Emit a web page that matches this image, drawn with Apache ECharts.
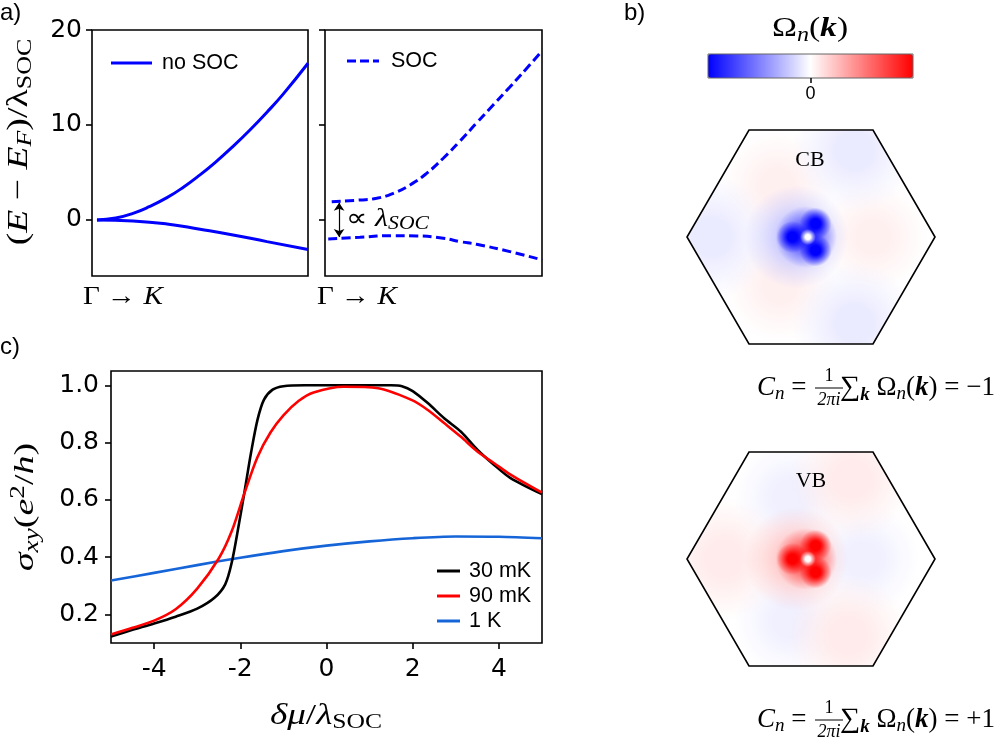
<!DOCTYPE html>
<html><head><meta charset="utf-8">
<script src="https://cdn.jsdelivr.net/npm/echarts@6/dist/echarts.min.js"></script>
<style>html,body{margin:0;padding:0;background:#fff}#c{width:996px;height:738px}</style>
</head><body><div id="c"></div>
<script>
// ---------- Panel a: band structure (x: fraction along Γ→K, y: (E-EF)/λSOC) ----------
const noSocUpperX = [0.023, 0.11, 0.19, 0.265, 0.347, 0.42, 0.5, 0.575, 0.653, 0.73, 0.81, 0.885, 1.0];
const noSocUpperY = [0, 0.2, 0.7, 1.4, 2.35, 3.4, 4.75, 6.15, 7.75, 9.45, 11.35, 13.25, 16.5];
const noSocLowerX = [0.023, 0.19, 0.347, 0.5, 0.653, 0.81, 1.0];
const noSocLowerY = [0, -0.1, -0.42, -0.98, -1.58, -2.28, -3.1];
const socUpperX = [0.031, 0.161, 0.238, 0.315, 0.392, 0.468, 0.545, 0.622, 0.698, 0.775, 0.852, 0.929, 1.0];
const socUpperY = [1.93, 2.1, 2.28, 2.8, 3.68, 4.9, 6.5, 8.3, 10.2, 12.1, 14.0, 15.95, 17.8];
const socLowerX = [0.015, 0.161, 0.315, 0.422, 0.545, 0.622, 0.698, 0.852, 1.0];
const socLowerY = [-2.0, -1.82, -1.65, -1.68, -1.93, -2.28, -2.56, -3.33, -4.2];
const aYTicks = [0, 10, 20];
const gapArrowX = [0.065, 0.065];
const gapArrowY = [1.8, -1.8];

// ---------- Panel c: Hall conductivity ----------
const c30X = [-5, -4.5, -4, -3.5, -3, -2.6, -2.35, -2.2, -2.05, -1.9, -1.75, -1.6, -1.45, -1.25, -1.0, -0.5, 1.5, 1.75, 2.0, 2.35, 2.73, 3.12, 3.5, 3.89, 4.27, 5];
const c30Y = [0.123, 0.146, 0.168, 0.192, 0.22, 0.258, 0.305, 0.38, 0.5, 0.63, 0.765, 0.88, 0.95, 0.985, 0.997, 1.0, 1.0, 0.997, 0.98, 0.938, 0.885, 0.838, 0.775, 0.722, 0.676, 0.62];
const c90X = [-5, -4.5, -4, -3.5, -3, -2.5, -2.2, -1.9, -1.6, -1.3, -1.0, -0.65, -0.3, 0.4, 1.2, 1.97, 2.35, 2.73, 3.12, 3.5, 3.89, 4.27, 5];
const c90Y = [0.13, 0.153, 0.178, 0.218, 0.29, 0.395, 0.49, 0.625, 0.75, 0.835, 0.895, 0.945, 0.975, 0.995, 0.99, 0.949, 0.914, 0.868, 0.82, 0.769, 0.728, 0.688, 0.625];
const c1KX = [-5, -4, -3, -2, -1, 0, 1, 2, 3, 4, 5];
const c1KY = [0.318, 0.345, 0.372, 0.398, 0.421, 0.44, 0.455, 0.466, 0.472, 0.471, 0.466];
const cXTicks = [-4, -2, 0, 2, 4];
const cYTicks = [0.2, 0.4, 0.6, 0.8, 1.0];

// ---------- Panel b: Berry curvature sketches (hexagonal BZ) ----------
const hexX = [1, 0.5, -0.5, -1, -0.5, 0.5];
const hexY = [0, 0.866, 0.866, 0, -0.866, -0.866];
// blobs: x, y, Ω value (-1..1), radius (BZ units)
const cbBlobX = [-0.27, -0.25, 0.5, -0.8, 0.35, 0.35, -0.12, -0.04, -0.15, 0.037, 0.037, -0.025];
const cbBlobY = [0.42, -0.4, 0.0, 0.0, 0.7, -0.7, 0.0, 0.0, 0.0, 0.108, -0.108, 0.0];
const cbBlobV = [0.06, 0.06, 0.06, -0.08, -0.08, -0.08, -0.22, -0.7, -1, -1, -1, 0];
const cbBlobR = [0.45, 0.45, 0.45, 0.5, 0.5, 0.5, 0.42, 0.25, 0.13, 0.13, 0.13, 0.065];
const vbBlobX = [-0.17, -0.17, 0.42, -0.7, 0.33, 0.3, -0.12, -0.04, -0.15, 0.037, 0.037, -0.025];
const vbBlobY = [0.5, -0.5, 0.0, 0.0, 0.65, -0.62, 0.0, 0.0, 0.0, 0.108, -0.108, 0.0];
const vbBlobV = [-0.06, -0.06, -0.06, 0.08, 0.08, 0.08, 0.22, 0.7, 1, 1, 1, 0];
const vbBlobR = [0.45, 0.45, 0.45, 0.5, 0.5, 0.5, 0.42, 0.25, 0.13, 0.13, 0.13, 0.065];
const colorbarTicks = [0];

const zip = (xs, ys) => xs.map((x, i) => [x, ys[i]]);
const zip4 = (a, b, c, d) => a.map((x, i) => [x, b[i], c[i], d[i]]);

const SANS = 'Liberation Sans, Arial, sans-serif';
const TICK = 'DejaVu Sans, sans-serif';
const SERIF = 'Liberation Serif, Times New Roman, serif';
function mrich(S) {
  const sub = Math.round(S * 0.7);
  return {
    rm: {fontFamily: SERIF, fontSize: S, fill: '#000'},
    it: {fontFamily: SERIF, fontSize: S, fontStyle: 'italic', fill: '#000'},
    bk: {fontFamily: SERIF, fontSize: S, fontStyle: 'italic', fontWeight: 'bold', fill: '#000'},
    sum: {fontFamily: SERIF, fontSize: S * 1.05, fill: '#000'},
    sub: {fontFamily: SERIF, fontSize: sub, fontStyle: 'italic', fill: '#000', padding: [S * 0.45, 0, 0, 0]},
    subrm: {fontFamily: SERIF, fontSize: sub, fill: '#000', padding: [S * 0.45, 0, 0, 0]},
    subbk: {fontFamily: SERIF, fontSize: sub, fontStyle: 'italic', fontWeight: 'bold', fill: '#000', padding: [S * 0.55, 0, 0, 0]},
    sup: {fontFamily: SERIF, fontSize: sub, fill: '#000', padding: [0, 0, S * 0.5, 0]}
  };
}

function blobRender(params, api) {
  const c = api.coord([api.value(0), api.value(1)]);
  const r = api.size([api.value(3), api.value(3)])[0];
  const col = api.visual('color');
  const pts = hexX.map((hx, i) => api.coord([hx, hexY[i]]));
  return {
    type: 'circle', silent: true,
    shape: {cx: c[0], cy: c[1], r: r},
    style: {fill: new echarts.graphic.RadialGradient(0.5, 0.5, 0.5, [
      {offset: 0, color: col},
      {offset: 0.3, color: col},
      {offset: 0.65, color: echarts.color.modifyAlpha(col, 0.45)},
      {offset: 1, color: echarts.color.modifyAlpha(col, 0)}
    ])},
    clipPath: {type: 'polygon', shape: {points: pts}}
  };
}
function frameRender(params, api) {
  const pts = hexX.map((hx, i) => api.coord([hx, hexY[i]]));
  return {type: 'polygon', silent: true, shape: {points: pts},
    style: {fill: 'none', stroke: '#000', lineWidth: 1.6}};
}

const chart = echarts.init(document.getElementById('c'), null, {renderer: 'canvas'});
const tickLabel = {fontFamily: TICK, color: '#000', fontSize: 25};
const tickStyle = {show: true, length: 6, lineStyle: {color: '#000', width: 1.6}};
const noLine = {show: false, onZero: false};

const option = {
  animation: false,
  backgroundColor: '#fff',
  grid: [
    {left: 92, top: 30, width: 216, height: 246, show: true, borderColor: '#000', borderWidth: 1.6, backgroundColor: 'transparent'},
    {left: 325, top: 30, width: 217, height: 246, show: true, borderColor: '#000', borderWidth: 1.6, backgroundColor: 'transparent'},
    {left: 111, top: 371, width: 431, height: 272, show: true, borderColor: '#000', borderWidth: 1.6, backgroundColor: 'transparent'},
    {left: 687, top: 130, width: 248, height: 214},
    {left: 687, top: 452, width: 248, height: 214},
    {left: 708, top: 54, width: 205, height: 24, show: true, borderColor: '#666', borderWidth: 1, backgroundColor: 'transparent', z: 10}
  ],
  xAxis: [
    {gridIndex: 0, type: 'value', min: 0, max: 1, axisLine: noLine, axisTick: {show: false}, axisLabel: {show: false}, splitLine: {show: false}},
    {gridIndex: 1, type: 'value', min: 0, max: 1, axisLine: noLine, axisTick: {show: false}, axisLabel: {show: false}, splitLine: {show: false}},
    {gridIndex: 2, type: 'value', min: -5, max: 5, position: 'bottom', axisLine: noLine, splitLine: {show: false},
      axisTick: {...tickStyle, customValues: cXTicks},
      axisLabel: {customValues: cXTicks, margin: 14, ...tickLabel}},
    {gridIndex: 3, type: 'value', min: -1, max: 1, show: false},
    {gridIndex: 4, type: 'value', min: -1, max: 1, show: false},
    {gridIndex: 5, type: 'value', min: -1, max: 1, position: 'bottom', axisLine: noLine, splitLine: {show: false}, z: 11,
      axisTick: {show: true, customValues: colorbarTicks, length: 5, lineStyle: {color: '#000', width: 1.5}},
      axisLabel: {customValues: colorbarTicks, margin: 7, fontFamily: SANS, fontSize: 18, color: '#000'}}
  ],
  yAxis: [
    {gridIndex: 0, type: 'value', min: -5.9, max: 20, position: 'left', axisLine: noLine, splitLine: {show: false},
      axisTick: {...tickStyle, customValues: aYTicks},
      axisLabel: {customValues: aYTicks, margin: 10, ...tickLabel}},
    {gridIndex: 1, type: 'value', min: -5.9, max: 20, position: 'left', axisLine: noLine, splitLine: {show: false},
      axisTick: {...tickStyle, customValues: aYTicks},
      axisLabel: {show: false}},
    {gridIndex: 2, type: 'value', min: 0.1, max: 1.05, position: 'left', axisLine: noLine, splitLine: {show: false},
      axisTick: {...tickStyle, customValues: cYTicks},
      axisLabel: {customValues: cYTicks, margin: 12, formatter: v => v.toFixed(1), ...tickLabel}},
    {gridIndex: 3, type: 'value', min: -0.866, max: 0.866, show: false},
    {gridIndex: 4, type: 'value', min: -0.866, max: 0.866, show: false},
    {gridIndex: 5, type: 'value', min: 0, max: 1, show: false}
  ],
  visualMap: [{
    type: 'continuous', min: -1, max: 1, orient: 'horizontal', left: 708, top: 54,
    itemWidth: 24, itemHeight: 205, calculable: false, showLabel: false, text: ['', ''],
    padding: 0, hoverLink: false, seriesIndex: [7, 9], dimension: 2,
    inRange: {color: ['#0000ff', '#ffffff', '#ff0000']}
  }],
  legend: [
    {data: ['no SOC'], left: 106, top: 47, icon: 'rect', itemWidth: 41, itemHeight: 3, selectedMode: false,
      textStyle: {fontFamily: SANS, fontSize: 21.5, color: '#000', padding: [0, 0, 0, 5]}},
    {data: ['SOC'], left: 342, top: 45, icon: 'path://M0,0h9v3h-9z M13,0h9v3h-9z M26,0h6v3h-6z', itemWidth: 32, itemHeight: 3, selectedMode: false,
      textStyle: {fontFamily: SANS, fontSize: 21.5, color: '#000', padding: [0, 0, 0, 7]}},
    {data: ['30 mK', '90 mK', '1 K'], orient: 'vertical', left: 432, top: 555, icon: 'rect', itemWidth: 23, itemHeight: 3, itemGap: 3, selectedMode: false,
      textStyle: {fontFamily: SANS, fontSize: 21.5, color: '#000', padding: [0, 0, 0, 4]}}
  ],
  series: [
    {name: 'no SOC', type: 'line', xAxisIndex: 0, yAxisIndex: 0, data: zip(noSocUpperX, noSocUpperY), smooth: true, symbol: 'none', lineStyle: {color: '#0000ff', width: 3}, itemStyle: {color: '#0000ff'}},
    {name: 'no SOC', type: 'line', xAxisIndex: 0, yAxisIndex: 0, data: zip(noSocLowerX, noSocLowerY), smooth: true, symbol: 'none', lineStyle: {color: '#0000ff', width: 3}, itemStyle: {color: '#0000ff'}},
    {name: 'SOC', type: 'line', xAxisIndex: 1, yAxisIndex: 1, data: zip(socUpperX, socUpperY), smooth: true, symbol: 'none', lineStyle: {color: '#0000ff', width: 3, type: [9, 4.5]}, itemStyle: {color: '#0000ff'}},
    {name: 'SOC', type: 'line', xAxisIndex: 1, yAxisIndex: 1, data: zip(socLowerX, socLowerY), smooth: true, symbol: 'none', lineStyle: {color: '#0000ff', width: 3, type: [9, 4.5]}, itemStyle: {color: '#0000ff'},
      markLine: {silent: true, symbol: ['arrow', 'arrow'], symbolSize: [8, 8], label: {show: false},
        lineStyle: {color: '#000', width: 1.2, type: 'solid'},
        data: [[{coord: [gapArrowX[0], gapArrowY[0]]}, {coord: [gapArrowX[1], gapArrowY[1]]}]]}},
    {name: '30 mK', type: 'line', xAxisIndex: 2, yAxisIndex: 2, data: zip(c30X, c30Y), smooth: 0.3, symbol: 'none', lineStyle: {color: '#000000', width: 2.6}, itemStyle: {color: '#000000'}, z: 3},
    {name: '90 mK', type: 'line', xAxisIndex: 2, yAxisIndex: 2, data: zip(c90X, c90Y), smooth: 0.3, symbol: 'none', lineStyle: {color: '#ff0000', width: 2.6}, itemStyle: {color: '#ff0000'}, z: 4},
    {name: '1 K', type: 'line', xAxisIndex: 2, yAxisIndex: 2, data: zip(c1KX, c1KY), smooth: 0.3, symbol: 'none', lineStyle: {color: '#1565d8', width: 2.6}, itemStyle: {color: '#1565d8'}, z: 2},
    {name: 'CB', type: 'custom', xAxisIndex: 3, yAxisIndex: 3, renderItem: blobRender, encode: {x: 0, y: 1}, data: zip4(cbBlobX, cbBlobY, cbBlobV, cbBlobR), z: 1},
    {name: 'CBframe', type: 'custom', xAxisIndex: 3, yAxisIndex: 3, renderItem: frameRender, encode: {x: 0, y: 1}, data: [[0, 0]], z: 5},
    {name: 'VB', type: 'custom', xAxisIndex: 4, yAxisIndex: 4, renderItem: blobRender, encode: {x: 0, y: 1}, data: zip4(vbBlobX, vbBlobY, vbBlobV, vbBlobR), z: 1},
    {name: 'VBframe', type: 'custom', xAxisIndex: 4, yAxisIndex: 4, renderItem: frameRender, encode: {x: 0, y: 1}, data: [[0, 0]], z: 5}
  ],
  graphic: {elements: [
    {type: 'text', left: 0, top: 1, z: 20, style: {text: 'a)', fontFamily: SANS, fontSize: 24, fill: '#000'}},
    {type: 'text', left: 624, top: 1, z: 20, style: {text: 'b)', fontFamily: SANS, fontSize: 24, fill: '#000'}},
    {type: 'text', left: 0, top: 335, z: 20, style: {text: 'c)', fontFamily: SANS, fontSize: 24, fill: '#000'}},
    {type: 'text', x: 19, y: 142, rotation: Math.PI / 2, scaleX: 1.3, z: 20,
      style: {text: '{rm|(}{it|E}{rm| − }{it|E}{sub|F}{rm|)/λ}{subrm|SOC}', rich: mrich(29), align: 'center', verticalAlign: 'middle'}},
    {type: 'text', x: 83, y: 297, scaleX: 1.12, z: 20, style: {text: '{rm|Γ → }{it|K}', rich: mrich(26), align: 'left', verticalAlign: 'middle'}},
    {type: 'text', x: 317, y: 297, scaleX: 1.12, z: 20, style: {text: '{rm|Γ → }{it|K}', rich: mrich(26), align: 'left', verticalAlign: 'middle'}},
    {type: 'text', x: 346, y: 219, scaleX: 1.2, z: 20, style: {text: '{rm|∝ }{it|λ}{sub|SOC}', rich: mrich(25), align: 'left', verticalAlign: 'middle'}},
    {type: 'text', x: 26, y: 507, rotation: Math.PI / 2, scaleX: 1.36, z: 20,
      style: {text: '{it|σ}{sub|xy}{rm|(}{it|e}{sup|2}{rm|/}{it|h}{rm|)}', rich: mrich(28), align: 'center', verticalAlign: 'middle'}},
    {type: 'text', x: 326, y: 716, scaleX: 1.28, z: 20, style: {text: '{it|δμ}{rm|/}{it|λ}{subrm|SOC}', rich: mrich(29), align: 'center', verticalAlign: 'middle'}},
    {type: 'text', x: 810, y: 29, scaleX: 1.2, z: 20, style: {text: '{rm|Ω}{sub|n}{rm|(}{bk|k}{rm|)}', rich: mrich(28), align: 'center', verticalAlign: 'middle'}},
    {type: 'text', x: 810, y: 160, z: 20, style: {text: 'CB', fontFamily: SERIF, fontSize: 22, fill: '#000', align: 'center', verticalAlign: 'middle'}},
    {type: 'text', x: 811, y: 481, z: 20, style: {text: 'VB', fontFamily: SERIF, fontSize: 22, fill: '#000', align: 'center', verticalAlign: 'middle'}},
    // Chern number formulas
    {type: 'text', x: 757, y: 388, z: 20, style: {text: '{it|C}{sub|n}{rm| = }', rich: mrich(27), align: 'left', verticalAlign: 'middle'}},
    {type: 'text', x: 829, y: 376, z: 20, style: {text: '1', fontFamily: SERIF, fontSize: 18, fill: '#000', align: 'center', verticalAlign: 'middle'}},
    {type: 'line', z: 20, shape: {x1: 815, y1: 388, x2: 843, y2: 388}, style: {stroke: '#000', lineWidth: 1}},
    {type: 'text', x: 829, y: 400, z: 20, style: {text: '{it|2πi}', rich: mrich(18), align: 'center', verticalAlign: 'middle'}},
    {type: 'text', x: 995, y: 388, z: 20, style: {text: '{sum|∑}{subbk|k}{rm| Ω}{sub|n}{rm|(}{bk|k}{rm|) = −1}', rich: mrich(27), align: 'right', verticalAlign: 'middle'}},
    {type: 'text', x: 757, y: 720, z: 20, style: {text: '{it|C}{sub|n}{rm| = }', rich: mrich(27), align: 'left', verticalAlign: 'middle'}},
    {type: 'text', x: 829, y: 708, z: 20, style: {text: '1', fontFamily: SERIF, fontSize: 18, fill: '#000', align: 'center', verticalAlign: 'middle'}},
    {type: 'line', z: 20, shape: {x1: 815, y1: 720, x2: 843, y2: 720}, style: {stroke: '#000', lineWidth: 1}},
    {type: 'text', x: 829, y: 732, z: 20, style: {text: '{it|2πi}', rich: mrich(18), align: 'center', verticalAlign: 'middle'}},
    {type: 'text', x: 995, y: 720, z: 20, style: {text: '{sum|∑}{subbk|k}{rm| Ω}{sub|n}{rm|(}{bk|k}{rm|) = +1}', rich: mrich(27), align: 'right', verticalAlign: 'middle'}}
  ]}
};
chart.setOption(option);
</script>
</body></html>
